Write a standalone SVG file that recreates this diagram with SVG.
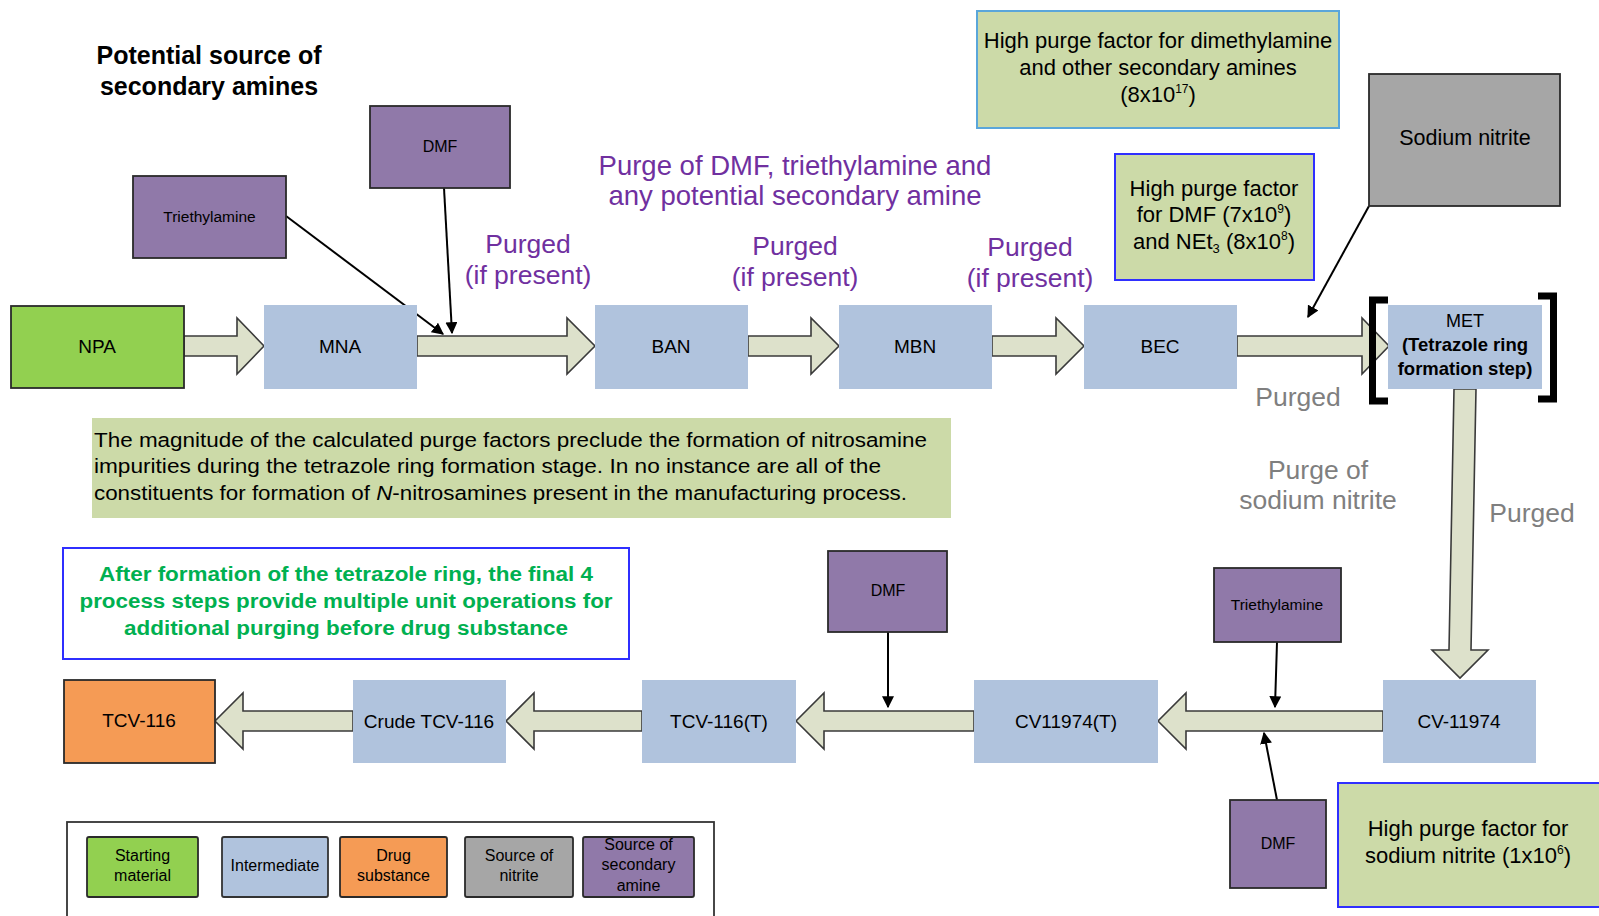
<svg xmlns="http://www.w3.org/2000/svg" width="1599" height="916" viewBox="0 0 1599 916">
<style>
text{font-family:"Liberation Sans",Arial,sans-serif;fill:#000}
.c{text-anchor:middle}
.blk{fill:#DDE1CB;stroke:#3a3a3a;stroke-width:1.6;stroke-linejoin:miter}
.thin{stroke:#000;stroke-width:2;fill:none;marker-end:url(#ah)}
.int{fill:#B0C3DD}
.src{fill:#9079A9;stroke:#2a2a2a;stroke-width:1.8}
.sm{fill:#92D050;stroke:#2a2a2a;stroke-width:1.8}
.ds{fill:#F59B55;stroke:#2a2a2a;stroke-width:1.8}
.nit{fill:#A6A6A6;stroke:#2a2a2a;stroke-width:1.8}
.lbl{font-size:19px}
.pur{fill:#7030A0;font-size:26.5px}
.gry{fill:#7F7F7F;font-size:26.5px}
.note{font-size:22px}
.gbox{fill:#CCDAA8}
.leg{font-size:16px}
</style>
<defs>
<marker id="ah" viewBox="0 0 10 10" refX="9" refY="5" markerWidth="6" markerHeight="6" orient="auto" markerUnits="strokeWidth">
<path d="M0,0 L10,5 L0,10 z" fill="#000"/>
</marker>
</defs>

<g id="title">
<text class="c" x="209" y="64" font-size="25" font-weight="bold">Potential source of</text>
<text class="c" x="209" y="95" font-size="25" font-weight="bold">secondary amines</text>
</g>

<g id="connectors">
<polygon class="blk" points="184,336 237,336 237,318 264,346 237,374 237,356 184,356"/>
<polygon class="blk" points="417,336 567,336 567,318 595,346 567,374 567,356 417,356"/>
<polygon class="blk" points="748,336 811,336 811,318 839,346 811,374 811,356 748,356"/>
<polygon class="blk" points="992,336 1056,336 1056,318 1084,346 1056,374 1056,356 992,356"/>
<polygon class="blk" points="1237,336 1362,336 1362,318 1389,346 1362,374 1362,356 1237,356"/>
<polygon class="blk" points="1454,389 1476,389 1471,650 1488,650 1460,678 1432,650 1449,650"/>
<polygon class="blk" points="1383,711 1186,711 1186,693 1158,721 1186,749 1186,731 1383,731"/>
<polygon class="blk" points="974,711 824,711 824,693 796,721 824,749 824,731 974,731"/>
<polygon class="blk" points="642,711 534,711 534,693 506,721 534,749 534,731 642,731"/>
<polygon class="blk" points="353,711 243,711 243,693 215,721 243,749 243,731 353,731"/>
<line class="thin" x1="286" y1="216" x2="443" y2="334"/>
<line class="thin" x1="444" y1="188" x2="452" y2="333"/>
<line class="thin" x1="1369" y1="206" x2="1308" y2="317"/>
<line class="thin" x1="888" y1="632" x2="888" y2="707"/>
<line class="thin" x1="1277" y1="642" x2="1275" y2="707"/>
<line class="thin" x1="1277" y1="800" x2="1264" y2="733"/>
</g>

<g id="node-triethylamine-top"><rect class="src" x="133" y="176" width="153" height="82"/><text class="c" x="209.5" y="222" font-size="15.5">Triethylamine</text></g>
<g id="node-dmf-top"><rect class="src" x="370" y="106" width="140" height="82"/><text class="c" x="440" y="152" font-size="16">DMF</text></g>
<g id="node-npa"><rect class="sm" x="11" y="306" width="173" height="82"/><text class="c lbl" x="97" y="353">NPA</text></g>
<g id="node-mna"><rect class="int" x="264" y="305" width="153" height="84"/><text class="c lbl" x="340" y="353">MNA</text></g>
<g id="node-ban"><rect class="int" x="595" y="305" width="153" height="84"/><text class="c lbl" x="671" y="353">BAN</text></g>
<g id="node-mbn"><rect class="int" x="839" y="305" width="153" height="84"/><text class="c lbl" x="915" y="353">MBN</text></g>
<g id="node-bec"><rect class="int" x="1084" y="305" width="153" height="84"/><text class="c lbl" x="1160" y="353">BEC</text></g>
<g id="node-met">
<rect class="int" x="1388" y="305" width="154" height="84"/>
<text class="c" x="1465" y="327" font-size="18">MET</text>
<text class="c" x="1465" y="351" font-size="18.5" font-weight="bold">(Tetrazole ring</text>
<text class="c" x="1465" y="375" font-size="18.5" font-weight="bold">formation step)</text>
<path d="M1388,300 H1372.5 V401 H1388" fill="none" stroke="#000" stroke-width="7"/>
<path d="M1538,296 H1553.5 V399 H1538" fill="none" stroke="#000" stroke-width="7"/>
</g>
<g id="node-sodium-nitrite"><rect class="nit" x="1369" y="74" width="191" height="132"/><text class="c" x="1465" y="145" font-size="21.5">Sodium nitrite</text></g>

<g id="note-dimethylamine">
<rect class="gbox" x="977" y="11" width="362" height="117" stroke="#5AA6DA" stroke-width="2"/>
<text class="c note" x="1158" y="48">High purge factor for dimethylamine</text>
<text class="c note" x="1158" y="75">and other secondary amines</text>
<text class="c note" x="1158" y="102">(8x10<tspan font-size="12" dy="-9">17</tspan><tspan dy="9">)</tspan></text>
</g>
<g id="note-dmf-net3">
<rect class="gbox" x="1115" y="154" width="199" height="126" stroke="#2F2FFF" stroke-width="2"/>
<text class="c note" x="1214" y="196">High purge factor</text>
<text class="c note" x="1214" y="222">for DMF (7x10<tspan font-size="12" dy="-9">9</tspan><tspan dy="9">)</tspan></text>
<text class="c note" x="1214" y="249">and NEt<tspan font-size="13" dy="4">3</tspan><tspan dy="-4"> (8x10</tspan><tspan font-size="12" dy="-9">8</tspan><tspan dy="9">)</tspan></text>
</g>

<g id="label-purge-dmf">
<text class="c pur" x="795" y="175" style="font-size:27.5px">Purge of DMF, triethylamine and</text>
<text class="c pur" x="795" y="205" style="font-size:27.5px">any potential secondary amine</text>
</g>
<g id="label-purged-1"><text class="c pur" x="528" y="253">Purged</text><text class="c pur" x="528" y="284">(if present)</text></g>
<g id="label-purged-2"><text class="c pur" x="795" y="255">Purged</text><text class="c pur" x="795" y="286">(if present)</text></g>
<g id="label-purged-3"><text class="c pur" x="1030" y="256">Purged</text><text class="c pur" x="1030" y="287">(if present)</text></g>
<g id="label-purged-4"><text class="c gry" x="1298" y="406">Purged</text></g>
<g id="label-purge-nitrite"><text class="c gry" x="1318" y="479">Purge of</text><text class="c gry" x="1318" y="509">sodium nitrite</text></g>
<g id="label-purged-5"><text class="c gry" x="1532" y="522">Purged</text></g>

<g id="note-magnitude">
<rect class="gbox" x="92" y="418" width="859" height="100"/>
<text x="94" y="447" font-size="20.5" textLength="833" lengthAdjust="spacingAndGlyphs">The magnitude of the calculated purge factors preclude the formation of nitrosamine</text>
<text x="94" y="473" font-size="20.5" textLength="787" lengthAdjust="spacingAndGlyphs">impurities during the tetrazole ring formation stage.  In no instance are all of the</text>
<text x="94" y="500" font-size="20.5" textLength="813" lengthAdjust="spacingAndGlyphs">constituents for formation of <tspan font-style="italic">N</tspan>-nitrosamines present in the manufacturing process.</text>
</g>

<g id="note-final-steps">
<rect x="63" y="548" width="566" height="111" fill="#fff" stroke="#2F2FFF" stroke-width="2"/>
<text class="c" x="346" y="581" font-size="20" font-weight="bold" style="fill:#00B050" textLength="494" lengthAdjust="spacingAndGlyphs">After formation of the tetrazole ring, the final 4</text>
<text class="c" x="346" y="608" font-size="20" font-weight="bold" style="fill:#00B050" textLength="533" lengthAdjust="spacingAndGlyphs">process steps provide multiple unit operations for</text>
<text class="c" x="346" y="635" font-size="20" font-weight="bold" style="fill:#00B050" textLength="444" lengthAdjust="spacingAndGlyphs">additional purging before drug substance</text>
</g>

<g id="node-dmf-mid"><rect class="src" x="828" y="551" width="119" height="81"/><text class="c" x="888" y="596" font-size="16">DMF</text></g>
<g id="node-triethylamine-bottom"><rect class="src" x="1214" y="568" width="127" height="74"/><text class="c" x="1277" y="610" font-size="15.5">Triethylamine</text></g>
<g id="node-dmf-bottom"><rect class="src" x="1230" y="800" width="96" height="88"/><text class="c" x="1278" y="849" font-size="16">DMF</text></g>

<g id="node-cv11974"><rect class="int" x="1383" y="680" width="153" height="83"/><text class="c lbl" x="1459" y="728">CV-11974</text></g>
<g id="node-cv11974t"><rect class="int" x="974" y="680" width="184" height="83"/><text class="c lbl" x="1066" y="728">CV11974(T)</text></g>
<g id="node-tcv116t"><rect class="int" x="642" y="680" width="154" height="83"/><text class="c lbl" x="719" y="728">TCV-116(T)</text></g>
<g id="node-crude"><rect class="int" x="353" y="680" width="153" height="83"/><text class="c lbl" x="429" y="728">Crude TCV-116</text></g>
<g id="node-tcv116"><rect class="ds" x="64" y="680" width="151" height="83"/><text class="c lbl" x="139" y="727">TCV-116</text></g>

<g id="note-nitrite">
<rect class="gbox" x="1338" y="783" width="275" height="124" stroke="#2F2FFF" stroke-width="2"/>
<text class="c note" x="1468" y="836">High purge factor for</text>
<text class="c note" x="1468" y="863">sodium nitrite (1x10<tspan font-size="12" dy="-9">6</tspan><tspan dy="9">)</tspan></text>
</g>

<g id="legend">
<rect x="67" y="822" width="647" height="110" fill="#fff" stroke="#333" stroke-width="1.8"/>
<rect class="sm" x="87" y="837" width="111" height="60" rx="2"/>
<text class="c leg" x="142.5" y="861">Starting</text><text class="c leg" x="142.5" y="881">material</text>
<rect class="int" x="222" y="837" width="106" height="60" rx="2" stroke="#333" stroke-width="1.8"/>
<text class="c leg" x="275" y="871">Intermediate</text>
<rect class="ds" x="340" y="837" width="107" height="60" rx="2"/>
<text class="c leg" x="393.5" y="861">Drug</text><text class="c leg" x="393.5" y="881">substance</text>
<rect class="nit" x="465" y="837" width="108" height="60" rx="2"/>
<text class="c leg" x="519" y="861">Source of</text><text class="c leg" x="519" y="881">nitrite</text>
<rect class="src" x="583" y="837" width="111" height="60" rx="2"/>
<text class="c leg" x="638.5" y="850">Source of</text><text class="c leg" x="638.5" y="870">secondary</text><text class="c leg" x="638.5" y="891">amine</text>
</g>
</svg>
